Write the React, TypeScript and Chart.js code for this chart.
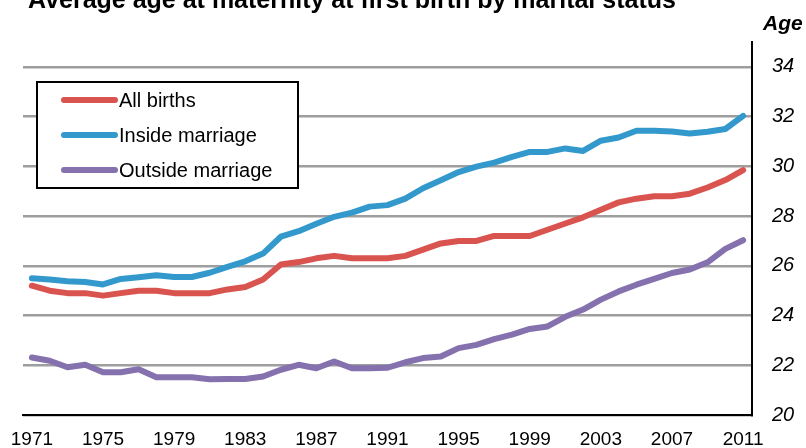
import { useEffect, useRef } from 'react';
import { Chart, registerables } from 'chart.js';

Chart.register(...registerables);

const chartTitle = 'Average age at maternity at first birth by marital status';
const axisTitle = 'Age';

const years = [
  '1971', '1972', '1973', '1974', '1975', '1976', '1977', '1978', '1979', '1980',
  '1981', '1982', '1983', '1984', '1985', '1986', '1987', '1988', '1989', '1990',
  '1991', '1992', '1993', '1994', '1995', '1996', '1997', '1998', '1999', '2000',
  '2001', '2002', '2003', '2004', '2005', '2006', '2007', '2008', '2009', '2010',
  '2011',
];

const allBirths = [
  25.2, 25.0, 24.9, 24.9, 24.8, 24.9, 25.0, 25.0, 24.9, 24.9,
  24.9, 25.05, 25.15, 25.45, 26.05, 26.15, 26.3, 26.4, 26.3, 26.3,
  26.3, 26.4, 26.65, 26.9, 27.0, 27.0, 27.2, 27.2, 27.2, 27.45,
  27.7, 27.95, 28.25, 28.55, 28.7, 28.8, 28.8, 28.9, 29.15, 29.45,
  29.85,
];

const insideMarriage = [
  25.5, 25.45, 25.38, 25.35, 25.25, 25.47, 25.54, 25.62, 25.55, 25.55,
  25.72, 25.96, 26.18, 26.49, 27.17, 27.39, 27.69, 27.97, 28.14, 28.38,
  28.44, 28.7, 29.12, 29.44, 29.77, 29.99, 30.15, 30.38, 30.58, 30.58,
  30.72, 30.62, 31.03, 31.16, 31.43, 31.43, 31.4, 31.32, 31.39, 31.5,
  32.03,
];

const outsideMarriage = [
  22.31, 22.18, 21.92, 22.02, 21.72, 21.72, 21.84, 21.52, 21.52, 21.52,
  21.44, 21.45, 21.45, 21.55, 21.82, 22.02, 21.88, 22.15, 21.88, 21.88,
  21.9, 22.12, 22.29, 22.35, 22.69, 22.82, 23.05, 23.23, 23.46, 23.56,
  23.95, 24.24, 24.64, 24.97, 25.24, 25.47, 25.71, 25.85, 26.14, 26.68,
  27.03,
];

const yTickValues = [20, 22, 24, 26, 28, 30, 32, 34];

const FONT = '"Liberation Sans", Arial, Helvetica, sans-serif';

const decorations = {
  id: 'decorations',
  afterDraw(chart: any) {
    const ctx = chart.ctx;
    ctx.save();
    ctx.fillStyle = '#000';
    ctx.textAlign = 'left';
    ctx.textBaseline = 'alphabetic';
    ctx.font = `bold 25px ${FONT}`;
    ctx.fillText(chartTitle, 28, 8);
    ctx.font = `italic bold 21px ${FONT}`;
    ctx.fillText(axisTitle, 763, 30);

    // legend box
    const bx = 37, by = 82, bw = 261, bh = 106;
    ctx.fillStyle = '#fff';
    ctx.fillRect(bx, by, bw, bh);
    ctx.lineWidth = 2;
    ctx.strokeStyle = '#000';
    ctx.strokeRect(bx, by, bw, bh);
    chart.data.datasets.forEach((ds: any, i: number) => {
      const y = by + 18 + i * 35;
      ctx.beginPath();
      ctx.strokeStyle = ds.borderColor;
      ctx.lineWidth = 6;
      ctx.lineCap = 'round';
      ctx.moveTo(64, y);
      ctx.lineTo(115, y);
      ctx.stroke();
      ctx.fillStyle = '#000';
      ctx.font = `20px ${FONT}`;
      ctx.textBaseline = 'middle';
      ctx.fillText(ds.label, 119, y + 1);
    });
    ctx.restore();
  },
};

export default function App() {
  const canvasRef = useRef<HTMLCanvasElement>(null);

  useEffect(() => {
    document.body.style.margin = '0';
    const canvas = canvasRef.current;
    if (!canvas) return;
    const mk = (label: string, data: number[], color: string) => ({
      label,
      data,
      borderColor: color,
      backgroundColor: color,
      borderWidth: 6,
      pointRadius: 0,
      pointHoverRadius: 0,
      tension: 0,
      borderCapStyle: 'round' as const,
      borderJoinStyle: 'round' as const,
      fill: false,
    });
    const chart = new Chart(canvas, {
      type: 'line',
      data: {
        labels: years,
        datasets: [
          mk('All births', allBirths, '#D9534F'),
          mk('Inside marriage', insideMarriage, '#3399CC'),
          mk('Outside marriage', outsideMarriage, '#8571AD'),
        ],
      },
      options: {
        responsive: false,
        animation: false,
        devicePixelRatio: 1,
        layout: { padding: { left: 23, top: 42, right: 0, bottom: 0 } },
        plugins: {
          legend: { display: false },
          title: { display: false },
          tooltip: { enabled: false },
        },
        scales: {
          x: {
            type: 'category',
            offset: true,
            grid: { display: false, drawTicks: false },
            border: { display: true, color: '#000', width: 2 },
            ticks: {
              autoSkip: false,
              maxRotation: 0,
              minRotation: 0,
              padding: 2,
              color: '#000',
              font: { family: FONT, size: 19, lineHeight: 2.4 },
              callback: (_v: any, i: number) => (i % 4 === 0 ? years[i] : ''),
            },
            afterFit: (s: any) => { s.height = 33; },
          },
          y: {
            position: 'right',
            min: 20,
            max: 35,
            afterBuildTicks: (s: any) => { s.ticks = yTickValues.map((v) => ({ value: v })); },
            grid: { color: '#9E9E9E', lineWidth: 2.5, drawTicks: false },
            border: { display: true, color: '#000', width: 2 },
            ticks: {
              padding: 20,
              color: '#000',
              font: { family: FONT, size: 20, style: 'italic' },
              callback: (v: any) => String(v),
            },
            afterFit: (s: any) => { s.width = 54; },
          },
        },
      },
      plugins: [decorations],
    });
    return () => chart.destroy();
  }, []);

  return (
    <div style={{ position: 'absolute', left: 0, top: 0, width: 806, height: 448 }}>
      <canvas ref={canvasRef} width={806} height={448} />
    </div>
  );
}
